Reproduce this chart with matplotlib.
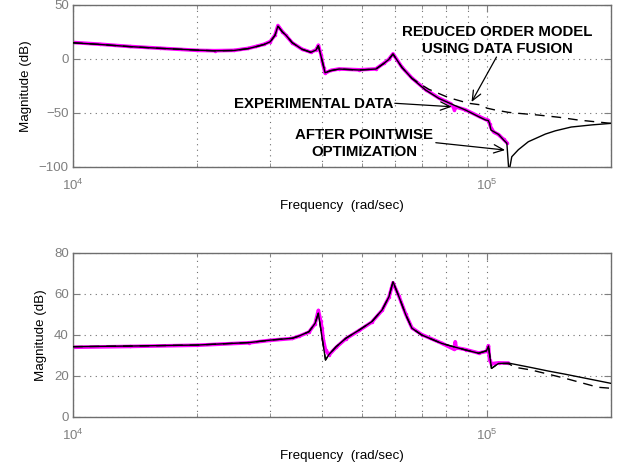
import matplotlib
matplotlib.use("Agg")
import matplotlib.pyplot as plt
from matplotlib.ticker import LogLocator, NullFormatter

plt.rcParams["font.family"] = ["Liberation Sans", "DejaVu Sans"]
plt.rcParams["mathtext.default"] = "regular"

# ---- top panel : magnitude (dB) ----
top_freq_fit = [1.00e4, 1.16e4, 1.37e4, 1.62e4, 2.00e4, 2.20e4, 2.45e4, 2.65e4, 2.77e4, 2.90e4,
                3.00e4, 3.08e4, 3.13e4, 3.21e4, 3.27e4, 3.39e4, 3.58e4, 3.76e4, 3.87e4,
                3.92e4, 4.01e4, 4.07e4, 4.20e4, 4.40e4, 4.92e4, 5.40e4, 5.65e4, 5.80e4,
                5.94e4, 6.25e4, 6.60e4, 7.12e4, 7.66e4, 8.33e4, 8.89e4, 9.57e4, 9.95e4,
                1.010e5, 1.017e5, 1.025e5, 1.069e5, 1.10e5, 1.12e5, 1.133e5, 1.151e5,
                1.194e5, 1.262e5, 1.388e5, 1.467e5, 1.602e5, 1.80e5, 2.00e5]
top_mag_fit = [15.0, 13.5, 11.5, 9.9, 8.2, 7.6, 7.9, 9.6, 11.4, 13.5,
               16.0, 22.0, 30.5, 25.0, 22.2, 15.1, 9.0, 6.2, 8.3,
               12.3, -2.5, -12.7, -10.8, -9.3, -10.2, -9.3, -4.0, -0.5,
               4.6, -8.0, -17.9, -28.7, -36.4, -42.6, -47.2, -53.4, -56.5,
               -57.0, -59.6, -65.8, -69.8, -75.0, -78.0, -105.0, -90.5,
               -84.0, -76.6, -69.5, -66.5, -63.0, -61.0, -59.6]

top_freq_rom = [1.00e4, 1.16e4, 1.37e4, 1.62e4, 2.00e4, 2.20e4, 2.45e4, 2.65e4, 2.77e4, 2.90e4,
                3.00e4, 3.08e4, 3.13e4, 3.21e4, 3.27e4, 3.39e4, 3.58e4, 3.76e4, 3.87e4,
                3.92e4, 4.01e4, 4.07e4, 4.20e4, 4.40e4, 4.92e4, 5.40e4, 5.65e4, 5.80e4,
                5.94e4, 6.25e4, 6.60e4, 6.97e4, 7.25e4, 8.10e4, 9.05e4, 9.74e4, 1.002e5,
                1.049e5, 1.13e5, 1.194e5, 1.334e5, 1.50e5, 1.666e5, 2.00e5]
top_mag_rom = [15.0, 13.5, 11.5, 9.9, 8.2, 7.6, 7.9, 9.6, 11.4, 13.5,
               16.0, 22.0, 30.5, 25.0, 22.2, 15.1, 9.0, 6.2, 8.3,
               12.3, -2.5, -12.7, -10.8, -9.3, -10.2, -9.3, -4.0, -0.5,
               4.6, -8.0, -17.9, -24.0, -28.0, -35.8, -41.0, -42.6, -45.5,
               -47.2, -49.4, -50.3, -51.9, -54.0, -56.5, -59.6]

top_freq_exp = [1.00e4, 1.16e4, 1.37e4, 1.62e4, 2.00e4, 2.20e4, 2.45e4, 2.65e4, 2.77e4, 2.90e4,
                3.00e4, 3.08e4, 3.13e4, 3.21e4, 3.27e4, 3.39e4, 3.58e4, 3.76e4, 3.87e4,
                3.92e4, 3.98e4, 4.01e4, 4.04e4, 4.07e4, 4.20e4, 4.40e4, 4.92e4, 5.40e4,
                5.65e4, 5.80e4, 5.94e4, 6.25e4, 6.60e4, 7.12e4, 7.66e4, 8.20e4, 8.30e4,
                8.36e4, 8.45e4, 8.89e4, 9.57e4, 9.95e4, 1.010e5, 1.017e5, 1.025e5,
                1.040e5, 1.069e5, 1.10e5, 1.12e5]
top_mag_exp = [15.3, 13.7, 11.6, 10.0, 8.0, 7.7, 8.0, 9.8, 11.6, 13.7,
               16.2, 22.3, 31.0, 25.3, 22.0, 15.0, 9.1, 6.3, 8.5,
               12.8, 4.0, -3.0, -8.0, -13.0, -10.6, -9.2, -10.0, -9.2,
               -3.8, -0.4, 4.8, -7.8, -17.6, -28.3, -36.0, -41.5, -44.0,
               -47.0, -44.5, -47.0, -53.0, -56.0, -56.8, -60.0, -63.5,
               -67.5, -70.0, -74.5, -77.5]

# ---- bottom panel : magnitude (dB) ----
bot_freq_fit = [1.00e4, 1.37e4, 2.00e4, 2.67e4, 3.00e4, 3.39e4, 3.52e4, 3.72e4, 3.85e4,
                3.92e4, 4.08e4, 4.16e4, 4.33e4, 4.57e4, 4.92e4, 5.28e4, 5.59e4, 5.81e4,
                5.94e4, 6.14e4, 6.38e4, 6.60e4, 6.97e4, 7.79e4, 8.42e4, 8.90e4, 9.57e4,
                1.000e5, 1.011e5, 1.028e5, 1.069e5, 1.13e5, 1.284e5, 1.411e5, 1.547e5,
                2.00e5]
bot_mag_fit = [34.3, 34.6, 35.1, 36.3, 37.5, 38.4, 39.5, 41.6, 45.7,
               50.6, 27.8, 30.5, 34.3, 38.4, 42.4, 46.5, 52.2, 58.7,
               66.0, 58.7, 49.8, 43.3, 40.0, 35.9, 34.0, 32.7, 31.1,
               32.3, 34.6, 23.7, 26.1, 26.3, 24.1, 22.4, 20.9,
               16.4]

bot_freq_rom = [1.00e4, 1.37e4, 2.00e4, 2.67e4, 3.00e4, 3.39e4, 3.52e4, 3.72e4, 3.85e4,
                3.92e4, 4.08e4, 4.16e4, 4.33e4, 4.57e4, 4.92e4, 5.28e4, 5.59e4, 5.81e4,
                5.94e4, 6.14e4, 6.38e4, 6.60e4, 6.97e4, 7.79e4, 8.42e4, 8.90e4, 9.57e4,
                1.000e5, 1.011e5, 1.028e5, 1.069e5, 1.13e5, 1.175e5, 1.284e5, 1.547e5,
                1.86e5, 2.00e5]
bot_mag_rom = [34.3, 34.6, 35.1, 36.3, 37.5, 38.4, 39.5, 41.6, 45.7,
               50.6, 27.8, 30.5, 34.3, 38.4, 42.4, 46.5, 52.2, 58.7,
               66.0, 58.7, 49.8, 43.3, 40.0, 35.9, 34.0, 32.7, 31.1,
               32.3, 34.6, 23.7, 26.1, 26.0, 24.2, 22.9, 18.9,
               14.5, 14.0]

bot_freq_exp = [1.00e4, 1.37e4, 2.00e4, 2.67e4, 3.00e4, 3.39e4, 3.52e4, 3.72e4, 3.85e4,
                3.92e4, 3.97e4, 4.00e4, 4.03e4, 4.08e4, 4.16e4, 4.33e4, 4.57e4, 4.92e4,
                5.28e4, 5.59e4, 5.81e4, 5.94e4, 6.14e4, 6.38e4, 6.60e4, 6.97e4, 7.79e4,
                8.35e4, 8.40e4, 8.45e4, 8.90e4, 9.57e4, 1.000e5, 1.011e5, 1.017e5,
                1.028e5, 1.069e5, 1.13e5]
bot_mag_exp = [34.0, 34.4, 35.0, 36.2, 37.4, 38.3, 39.4, 41.4, 45.5,
               52.0, 47.0, 43.4, 37.6, 32.7, 30.3, 34.0, 38.2, 42.2,
               46.3, 52.0, 58.5, 65.5, 58.9, 50.0, 43.5, 40.2, 36.0,
               33.0, 36.7, 33.8, 32.9, 31.2, 32.0, 34.8, 27.8,
               26.0, 26.4, 26.3]

# annotation texts
rom_label = "REDUCED ORDER MODEL\nUSING DATA FUSION"
exp_label = "EXPERIMENTAL DATA"
opt_label = "AFTER POINTWISE\nOPTIMIZATION"

GRAY = "#6e6e6e"
TICKGRAY = "#7f7f7f"
MAGENTA = "#ff00ff"

fig = plt.figure(figsize=(6.25, 4.67), dpi=100)
ax1 = fig.add_axes([0.1168, 0.6424, 0.8608, 0.3469])
ax2 = fig.add_axes([0.1168, 0.1071, 0.8608, 0.3512])


def draw_panel(ax, f_exp, m_exp, f_rom, m_rom, f_fit, m_fit, ylim, yticks):
    ax.plot(f_exp, m_exp, color=MAGENTA, lw=2.6, marker=".", ms=3,
            solid_capstyle="round", zorder=2)
    ax.plot(f_rom, m_rom, color="black", lw=1.0, dashes=(7, 5), zorder=3)
    ax.plot(f_fit, m_fit, color="black", lw=1.0, zorder=4)
    ax.set_xscale("log")
    ax.set_xlim(1e4, 2e5)
    ax.set_ylim(*ylim)
    ax.set_yticks(yticks)
    ax.xaxis.set_major_locator(LogLocator(base=10))
    ax.xaxis.set_minor_locator(LogLocator(base=10, subs=range(2, 10)))
    ax.xaxis.set_minor_formatter(NullFormatter())
    ax.grid(True, which="both", axis="x", color=GRAY, lw=0.8, ls=(0, (1, 4)))
    ax.grid(True, which="major", axis="y", color=GRAY, lw=0.8, ls=(0, (1, 4)))
    ax.tick_params(which="both", direction="in", top=True, right=True,
                   colors=TICKGRAY, labelsize=9.5, labelcolor=TICKGRAY)
    ax.tick_params(axis="x", which="major", pad=8, length=5)
    ax.tick_params(axis="x", which="minor", length=3)
    ax.tick_params(axis="y", length=5, pad=3)
    for sp in ax.spines.values():
        sp.set_color(GRAY)
        sp.set_linewidth(1.0)
    ax.set_xlabel("Frequency  (rad/sec)", fontsize=9.6, labelpad=5)
    ax.set_ylabel("Magnitude (dB)", fontsize=9.6, labelpad=5)


draw_panel(ax1, top_freq_exp, top_mag_exp, top_freq_rom, top_mag_rom,
           top_freq_fit, top_mag_fit, (-100, 50), [-100, -50, 0, 50])
draw_panel(ax2, bot_freq_exp, bot_mag_exp, bot_freq_rom, bot_mag_rom,
           bot_freq_fit, bot_mag_fit, (0, 80), [0, 20, 40, 60, 80])

# annotations on the top panel
txt = dict(fontsize=10.8, fontweight="bold", color="black", zorder=6)
arr = dict(arrowstyle="->,head_length=0.7,head_width=0.3", color="black", lw=0.9,
           shrinkA=0, shrinkB=0)
ax1.text(1.063e5, 17.1, rom_label, ha="center", va="center", linespacing=1.35, **txt)
ax1.annotate("", xy=(9.2e4, -39.8), xytext=(1.057e5, 1.8), arrowprops=arr)
ax1.text(5.968e4, -41.7, exp_label, ha="right", va="center", **txt)
ax1.annotate("", xy=(8.24e4, -44.2), xytext=(6.0e4, -41.0), arrowprops=arr)
ax1.text(5.053e4, -78.3, opt_label, ha="center", va="center", linespacing=1.35, **txt)
ax1.annotate("", xy=(1.109e5, -84.3), xytext=(7.54e4, -77.5), arrowprops=arr)

fig.savefig("out.png", dpi=100)
